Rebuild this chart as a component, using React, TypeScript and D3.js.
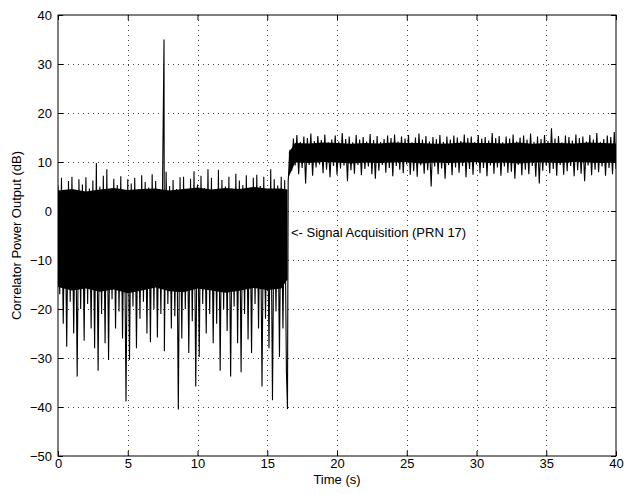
import React, { useRef, useEffect } from 'react';
import { select, scaleLinear, line, area, axisBottom, axisLeft, axisTop, axisRight } from 'd3';

const width = 628;
const height = 494;
const margin = { top: 15, right: 12, bottom: 38, left: 58 };

const xTicks = [0, 5, 10, 15, 20, 25, 30, 35, 40];
const yTicks = [-50, -40, -30, -20, -10, 0, 10, 20, 30, 40];

// peak excursions before acquisition, one pair every 0.25 s starting at t = 0
const preHigh = [
  5.2, 6.8, 4.1, 6.1, 7.0, 3.8, 6.5, 5.4, 6.9, 4.6, 6.2, 9.8, 5.0, 7.2, 8.5, 4.4,
  6.6, 5.3, 7.1, 3.9, 6.5, 5.6, 6.8, 4.2, 7.3, 5.9, 4.8, 7.5, 6.1, 3.6, 6.7, 8.0,
  5.1, 6.3, 4.5, 6.9, 7.0, 4.0, 6.6, 8.1, 5.4, 7.2, 4.7, 8.5, 6.8, 3.9, 8.4, 6.3,
  5.0, 7.0, 4.4, 7.6, 6.2, 5.3, 7.3, 4.6, 6.8, 7.4, 5.1, 7.0, 4.2, 8.5, 6.5, 5.2,
  7.0, 6.3,
];
const preLow = [
  -17, -23, -27.7, -18.5, -25, -33.8, -20, -26.5, -19, -24, -28, -32.6, -21, -27, -30.4, -18,
  -24, -20.5, -26, -38.9, -30.4, -19.5, -28, -22, -18.5, -25, -26.8, -20, -25.8, -21, -28.6, -19,
  -24, -21.5, -40.5, -26, -20, -29, -22.5, -35.8, -29.8, -19, -25, -21, -27, -23, -32.6, -20,
  -24.5, -33.8, -19.5, -27, -32.9, -21, -26.2, -29, -19, -24, -35.8, -22, -28, -38.6, -20.5, -29.8,
  -24, -33,
];

// peak excursions after acquisition, one pair every 0.25 s starting at t = 16.5
const postHigh = [
  12.5, 14.8, 15.5, 14.1, 15.2, 14.9, 15.8, 14.3, 15.3, 14.5, 15.6, 14.0, 14.6, 15.4, 14.2, 15.9,
  14.7, 15.2, 14.0, 15.5, 14.6, 15.1, 14.2, 15.7, 14.5, 15.3, 14.1, 14.7, 15.4, 14.9, 15.6, 14.2,
  15.2, 14.8, 15.5, 14.0, 15.0, 15.8, 14.6, 15.3, 14.2, 15.1, 14.7, 15.5, 14.1, 15.2, 14.6, 15.4,
  15.0, 14.3, 15.6, 14.9, 15.2, 14.1, 15.5, 14.8, 15.1, 14.4, 15.9, 14.9, 15.3, 14.0, 15.2, 14.8,
  15.6, 14.2, 15.0, 15.4, 14.6, 15.8, 14.1, 15.2, 14.7, 15.5, 14.3, 16.9, 14.8, 15.3, 14.0, 15.4,
  15.1, 14.4, 15.6, 14.9, 15.2, 14.2, 15.5, 14.6, 15.9, 14.1, 14.7, 15.4, 15.1, 16.1, 15.0,
];
const postLow = [
  6.0, 8.2, 9.3, 7.5, 8.8, 5.6, 9.4, 7.2, 8.9, 9.5, 7.7, 8.4, 6.9, 9.2, 7.4, 8.7,
  9.3, 6.1, 8.3, 7.6, 9.4, 7.3, 8.6, 9.1, 7.5, 6.6, 8.2, 9.4, 7.8, 8.8, 7.1, 9.2,
  8.4, 7.7, 9.5, 7.4, 8.1, 7.0, 9.3, 7.6, 8.3, 5.0, 9.1, 7.5, 8.7, 6.6, 9.4, 7.3,
  8.9, 7.8, 9.2, 6.9, 8.6, 7.4, 9.5, 7.7, 8.8, 7.1, 9.3, 7.6, 8.9, 7.2, 9.1, 7.8,
  8.0, 6.6, 9.4, 7.3, 8.4, 7.5, 9.2, 7.0, 5.6, 8.2, 9.3, 7.7, 8.6, 7.2, 9.4, 7.4,
  8.1, 9.2, 7.1, 8.3, 7.6, 6.1, 9.3, 7.3, 8.4, 7.9, 9.1, 7.2, 8.8, 7.5, 8.6,
];

// isolated spikes [time, dB]
const spikes = [
  [7.6, 35],
  [16.45, -40.4],
];

// solid body of the noise band
const coreTimes = [0, 1, 2, 3, 4, 5, 6, 7, 8, 9, 10, 11, 12, 13, 14, 15, 16, 16.45];
const coreTop = [4.2, 4.5, 4.0, 4.4, 4.7, 4.3, 4.5, 4.6, 4.2, 4.5, 4.8, 4.4, 4.7, 4.5, 4.9, 4.6, 4.6, 4.4];
const coreBottom = [-15.5, -16.2, -15.8, -16.5, -16, -16.8, -16.2, -15.6, -16.4, -16.6, -15.8, -16.2, -16.7, -16.3, -15.7, -16.1, -15.8, -14];

const coreTimes2 = [16.55, 17, 18, 19, 20, 21, 22, 23, 24, 25, 26, 27, 28, 29, 30, 31, 32, 33, 34, 35, 36, 37, 38, 39, 40];
const coreTop2 = [12, 13.9, 13.8, 14.0, 13.9, 13.7, 13.9, 13.8, 14.0, 13.9, 13.9, 13.7, 13.8, 14.0, 13.9, 13.9, 13.8, 14.0, 13.7, 13.9, 13.9, 13.8, 14.0, 13.9, 13.8];
const coreBottom2 = [7, 9.9, 9.8, 10.0, 9.9, 9.7, 9.9, 9.8, 9.9, 10.0, 9.7, 9.9, 9.8, 9.9, 10.0, 9.8, 9.9, 9.7, 9.9, 9.9, 9.8, 10.0, 9.9, 9.8, 9.9];

const font = '"Liberation Sans", Arial, Helvetica, sans-serif';
const fontSize = 13;

function Chart() {
  const svgRef = useRef(null);

  useEffect(() => {
    const svg = select(svgRef.current);
    svg.selectAll('*').remove();

    const x = scaleLinear().domain([0, 40]).range([margin.left, width - margin.right]);
    const y = scaleLinear().domain([-50, 40]).range([height - margin.bottom, margin.top]);

    svg.append('clipPath').attr('id', 'plot-clip')
      .append('rect')
      .attr('x', margin.left).attr('y', margin.top)
      .attr('width', x(40) - x(0)).attr('height', y(-50) - y(40));

    // grid
    const grid = svg.append('g').attr('stroke', '#444').attr('stroke-width', 1).attr('stroke-dasharray', '1,4');
    grid.selectAll('.gx').data(xTicks.slice(1, -1)).join('line')
      .attr('x1', d => Math.round(x(d)) + 0.5).attr('x2', d => Math.round(x(d)) + 0.5)
      .attr('y1', y(40)).attr('y2', y(-50));
    grid.selectAll('.gy').data(yTicks.slice(1, -1)).join('line')
      .attr('y1', d => Math.round(y(d)) + 0.5).attr('y2', d => Math.round(y(d)) + 0.5)
      .attr('x1', x(0)).attr('x2', x(40));

    // signal
    const signal = [];
    preHigh.forEach((h, i) => {
      const t = i * 0.25;
      signal.push([t, h]);
      signal.push([t + 0.125, preLow[i]]);
    });
    postHigh.forEach((h, i) => {
      const t = 16.5 + i * 0.25;
      signal.push([t, postLow[i]]);
      signal.push([t + 0.125, h]);
    });
    spikes.forEach(s => signal.push(s));
    signal.sort((a, b) => a[0] - b[0]);

    const plot = svg.append('g').attr('clip-path', 'url(#plot-clip)');

    const band = area().x(d => x(d[0])).y0(d => y(d[1])).y1(d => y(d[2]));
    plot.append('path')
      .attr('d', band(coreTimes.map((t, i) => [t, coreBottom[i], coreTop[i]])))
      .attr('fill', '#000');
    plot.append('path')
      .attr('d', band(coreTimes2.map((t, i) => [t, coreBottom2[i], coreTop2[i]])))
      .attr('fill', '#000');

    plot.append('path')
      .attr('d', line().x(d => x(d[0])).y(d => y(d[1]))(signal))
      .attr('fill', 'none')
      .attr('stroke', '#000')
      .attr('stroke-width', 1.1);

    // axes, ticks pointing inward
    const styleAxis = g => {
      g.select('.domain').remove();
      g.selectAll('text').attr('font-family', font).attr('font-size', fontSize).attr('fill', '#000');
      g.selectAll('line').attr('stroke', '#000');
    };
    svg.append('g').attr('transform', `translate(0,${y(-50)})`)
      .call(axisBottom(x).tickValues(xTicks).tickSize(-5).tickPadding(3)).call(styleAxis);
    svg.append('g').attr('transform', `translate(${x(0)},0)`)
      .call(axisLeft(y).tickValues(yTicks).tickSize(-5).tickPadding(6)).call(styleAxis);
    svg.append('g').attr('transform', `translate(0,${y(40)})`)
      .call(axisTop(x).tickValues(xTicks).tickSize(-5).tickFormat(() => '')).call(styleAxis);
    svg.append('g').attr('transform', `translate(${x(40)},0)`)
      .call(axisRight(y).tickValues(yTicks).tickSize(-5).tickFormat(() => '')).call(styleAxis);

    svg.append('rect')
      .attr('x', x(0)).attr('y', y(40))
      .attr('width', x(40) - x(0)).attr('height', y(-50) - y(40))
      .attr('fill', 'none').attr('stroke', '#000').attr('stroke-width', 1);

    // annotation and labels
    svg.append('text')
      .attr('x', x(16.7)).attr('y', y(-5) + 1.5)
      .attr('font-family', font).attr('font-size', fontSize)
      .text('<- Signal Acquisition (PRN 17)');

    svg.append('text')
      .attr('x', (x(0) + x(40)) / 2).attr('y', 484)
      .attr('text-anchor', 'middle')
      .attr('font-family', font).attr('font-size', fontSize)
      .text('Time (s)');

    svg.append('text')
      .attr('transform', `translate(21,${(y(40) + y(-50)) / 2}) rotate(-90)`)
      .attr('text-anchor', 'middle')
      .attr('font-family', font).attr('font-size', fontSize)
      .text('Correlator Power Output (dB)');
  }, []);

  return (
    <svg ref={svgRef} width={width} height={height}
      style={{ position: 'absolute', left: 0, top: 0, background: '#fff' }} />
  );
}

export default function App() {
  return <Chart />;
}
